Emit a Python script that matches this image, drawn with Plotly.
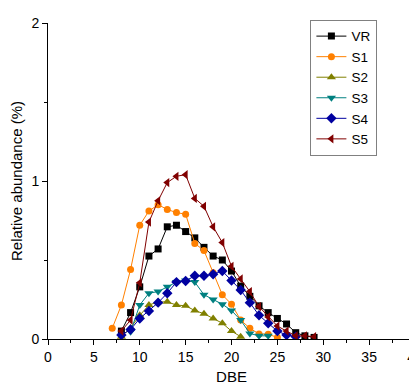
import plotly.graph_objects as go

x_vr = list(range(8, 30))
vr = [0.05, 0.167, 0.33, 0.525, 0.57, 0.71, 0.72, 0.68, 0.64, 0.58, 0.525, 0.50, 0.43, 0.335, 0.27, 0.21, 0.167, 0.13, 0.095, 0.04, 0.02, 0.01]

x_s1 = list(range(7, 26))
s1 = [0.068, 0.215, 0.44, 0.72, 0.81, 0.85, 0.82, 0.80, 0.79, 0.605, 0.56, 0.42, 0.28, 0.22, 0.12, 0.068, 0.032, 0.03, 0.01]

x_s2 = list(range(8, 22))
s2 = [0.015, 0.07, 0.15, 0.215, 0.235, 0.235, 0.215, 0.21, 0.18, 0.16, 0.13, 0.10, 0.05, 0.015]

x_s3 = list(range(9, 25))
s3 = [0.046, 0.215, 0.29, 0.30, 0.33, 0.36, 0.37, 0.36, 0.28, 0.25, 0.22, 0.18, 0.12, 0.035, 0.02, 0.02]

x_s4 = list(range(8, 28))
s4 = [0.025, 0.06, 0.13, 0.177, 0.23, 0.29, 0.36, 0.367, 0.40, 0.40, 0.41, 0.43, 0.37, 0.31, 0.23, 0.15, 0.10, 0.05, 0.025, 0.015]

x_s5 = list(range(8, 30))
s5 = [0.05, 0.12, 0.356, 0.74, 0.875, 0.99, 1.03, 1.04, 0.89, 0.84, 0.71, 0.61, 0.46, 0.38, 0.30, 0.205, 0.14, 0.082, 0.05, 0.02, 0.02, 0.015]

series = [
    ("VR", x_vr, vr, "#000000", "square", 7),
    ("S1", x_s1, s1, "#FF8000", "circle", 7),
    ("S2", x_s2, s2, "#808000", "triangle-up", 8),
    ("S3", x_s3, s3, "#008080", "triangle-down", 8),
    ("S4", x_s4, s4, "#0000A0", "diamond", 8),
    ("S5", x_s5, s5, "#800000", "triangle-left", 8),
]

fig = go.Figure()
for name, xs, ys, col, sym, sz in series:
    fig.add_trace(go.Scatter(
        x=xs, y=ys, name=name, mode="lines+markers",
        line=dict(color=col, width=1),
        marker=dict(symbol=sym, size=sz, color=col, line=dict(width=0)),
    ))

font = "Liberation Sans, Arial, sans-serif"
fig.update_layout(
    width=409, height=377,
    margin=dict(l=40, r=2, t=15, b=46),
    paper_bgcolor="white", plot_bgcolor="white",
    font=dict(family=font, size=14, color="#000000"),
    showlegend=True,
    legend=dict(
        x=0.715, y=1.01, xanchor="left", yanchor="top",
        bordercolor="#808080", borderwidth=1, bgcolor="white",
        font=dict(size=13.5), tracegroupgap=0, itemwidth=30,
    ),
    xaxis=dict(
        range=[0, 40], tickmode="linear", tick0=0, dtick=5,
        ticks="outside", ticklen=5, tickwidth=1, tickcolor="#000",
        showline=True, linecolor="#000", linewidth=1,
        showgrid=False, zeroline=False, automargin=False,
        ticklabeloverflow="allow",
        minor=dict(ticks="outside", ticklen=3, dtick=2.5, tickcolor="#000"),
        title=dict(text="DBE", font=dict(size=15), standoff=14),
        tickfont=dict(size=14),
    ),
    yaxis=dict(
        range=[0, 2], tickmode="linear", tick0=0, dtick=1,
        ticks="outside", ticklen=5, tickwidth=1, tickcolor="#000",
        showline=True, linecolor="#000", linewidth=1,
        showgrid=False, zeroline=False, automargin=False,
        minor=dict(ticks="outside", ticklen=3, dtick=0.5, tickcolor="#000"),
        title=dict(text="Relative abundance (%)", font=dict(size=15), standoff=10),
        tickfont=dict(size=14),
    ),
)

fig.write_html("out.html")
